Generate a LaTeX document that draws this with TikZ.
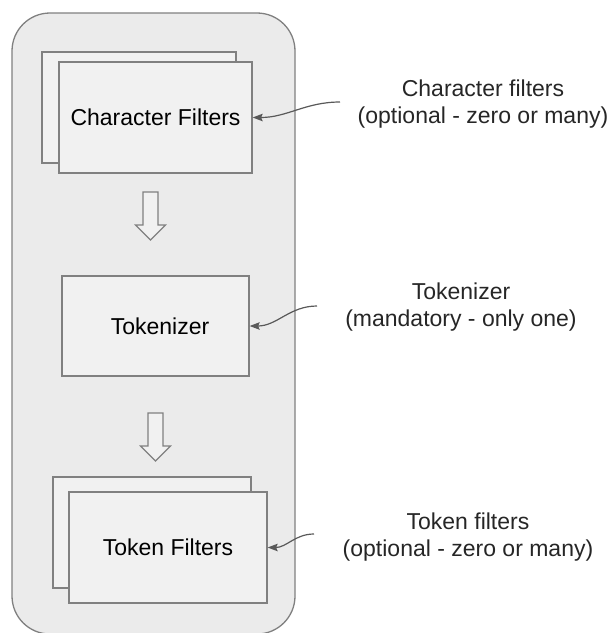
\documentclass[tikz,border=0pt]{standalone}
\usepackage{fontspec}
\setmainfont{Liberation Sans}
\usepackage{tikz}
\usetikzlibrary{arrows.meta}
\definecolor{panelgray}{HTML}{EBEBEB}
\definecolor{boxgray}{HTML}{F1F1F1}
\definecolor{edgegray}{HTML}{808080}
\definecolor{notegray}{HTML}{595959}
\tikzset{
  filterbox/.style={draw=edgegray, fill=boxgray, line width=1.3pt, inner sep=0pt,
    minimum width=193pt, minimum height=111pt, font=\fontsize{23}{27}\selectfont},
  blockarr/.style={draw=edgegray, fill=boxgray, line width=1.2pt, line join=miter},
  note/.style={align=center, text=black!85, font=\fontsize{23}{27}\selectfont},
  notearrow/.style={draw=notegray, line width=1.2pt, -{Stealth[length=10pt,width=7.5pt,inset=1.5pt]}}
}
\def\blockarrow(#1,#2){\draw[blockarr] (#1,#2) ++(-7.5,0) -- ++(0,33) -- ++(-7.5,0) -- ++(15,15) -- ++(15,-15) -- ++(-7.5,0) -- ++(0,-33) -- cycle;}

\begin{document}
\begin{tikzpicture}[x=1pt, y=-1pt]
		%%%%% START %%%%%
		\useasboundingbox (0, 0) rectangle (614, 633);
		\draw[draw=edgegray, fill=panelgray, line width=1.3pt, rounded corners=38pt] (12, 13) rectangle (295, 634);
		
		% character filters (stacked)
		\node[filterbox, minimum width=194pt] (cfback) at (139, 107.5) {};
		\node[filterbox] (cf) at (155.5, 117.5) {Character Filters};
		
		\blockarrow(150.5, 192)
		
		% tokenizer
		\node[filterbox, minimum width=187pt, minimum height=100pt] (tok) at (155.5, 326) {\hspace*{9pt}Tokenizer};
		
		\blockarrow(155.5, 413)
		
		% token filters (stacked)
		\node[filterbox, minimum width=198pt] (tfback) at (152, 532.5) {};
		\node[filterbox, minimum width=198pt] (tf) at (168, 547.5) {Token Filters};
		
		% notes on the right
		\node[note] (cfnote) at (483, 104.5) {Character filters\\(optional - zero or many)};
		\node[note] (toknote) at (461, 307.5) {Tokenizer\\(mandatory - only one)};
		\node[note] (tfnote) at (468, 537) {Token filters\\(optional - zero or many)};
		
		\coordinate (cfhook) at (340, 102);
		\coordinate (tokhook) at (317, 306);
		\coordinate (tfhook) at (314, 534);
		
		\draw[notearrow] (cfhook) to[out=180, in=0] (cf.east);
		\draw[notearrow] (tokhook) to[out=180, in=0] (tok.east);
		\draw[notearrow] (tfhook) to[out=180, in=0] (tf.east);
		%%%%% END %%%%%
\end{tikzpicture}
\end{document}
